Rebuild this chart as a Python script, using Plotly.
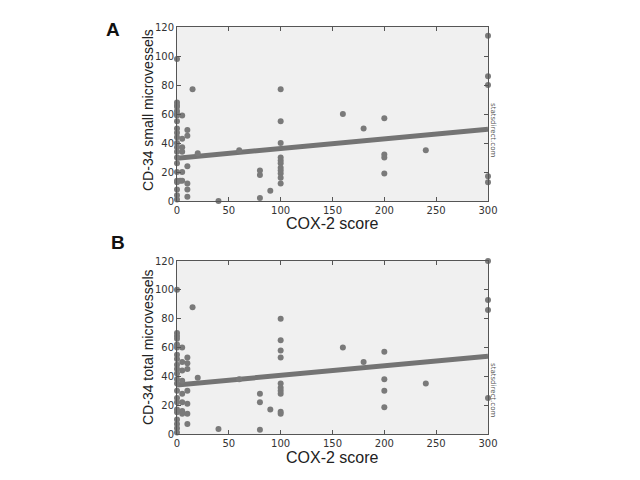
import plotly.graph_objects as go

# Panel A: CD-34 small microvessels vs COX-2 score
a_x = [0, 0, 0, 0, 0, 0, 0, 0, 0, 0, 0, 0, 0, 0, 0, 0, 0, 0, 0, 0, 0, 0,
       3, 5, 5, 5, 5, 5, 5, 10, 10, 10, 10, 10, 10, 15, 20, 40, 60,
       80, 80, 80, 90, 100, 100, 100, 100, 100, 100, 100, 100, 100, 100, 100,
       160, 180, 200, 200, 200, 200, 240, 300, 300, 300, 300, 300]
a_y = [98, 68, 66, 65, 62, 60, 59, 55, 50, 47, 44, 40, 37, 34, 30, 26, 20, 14, 13, 8, 4, 1,
       14, 59, 43, 37, 34, 20, 14, 49, 45, 24, 12, 8, 3, 77, 33, 0, 35,
       21, 18, 2, 7, 77, 55, 40, 30, 28, 26, 23, 21, 19, 16, 12,
       60, 50, 57, 32, 30, 19, 35, 114, 86, 80, 17, 13]
a_fit_x = [0, 300]
a_fit_y = [29.5, 49.5]

# Panel B: CD-34 total microvessels vs COX-2 score
b_x = [0, 0, 0, 0, 0, 0, 0, 0, 0, 0, 0, 0, 0, 0, 0, 0, 0, 0, 0, 0, 0, 0,
       5, 5, 5, 5, 5, 5, 5, 5, 10, 10, 10, 10, 10, 10, 10, 15, 20, 40, 60,
       80, 80, 80, 90, 100, 100, 100, 100, 100, 100, 100, 100, 100, 100,
       160, 180, 200, 200, 200, 200, 240, 300, 300, 300, 300]
b_y = [100, 70, 68, 66, 62, 60, 55, 52, 48, 45, 42, 38, 35, 30, 25, 22, 17, 15, 10, 7, 4, 1,
       60, 50, 44, 37, 28, 22, 16, 14, 53, 49, 45, 30, 21, 14, 7, 88, 39, 3.5, 38,
       28, 22, 3, 17, 80, 65, 58, 53, 35, 32, 30, 28, 15.5, 14,
       60, 50, 57, 38, 30, 18.5, 35, 120, 93, 86, 25]
b_fit_x = [0, 300]
b_fit_y = [34, 54]

x_ticks = [0, 50, 100, 150, 200, 250, 300]
y_ticks = [0, 20, 40, 60, 80, 100, 120]

x_title = "COX-2 score"
a_ytitle = "CD-34 small microvessels"
b_ytitle = "CD-34 total microvessels"
watermark = "statsdirect.com"

W, H = 640, 480
OFF = 8  # page body margin offset in the screenshot


def px(x):
    return (x - OFF) / W


def py(y):
    return 1 - (y - OFF) / H


pt_color = "#7a7a7a"
line_color = "#747474"

fig = go.Figure()

panels = [
    ("x", "y", a_x, a_y, a_fit_x, a_fit_y),
    ("x2", "y2", b_x, b_y, b_fit_x, b_fit_y),
]
for xa, ya, xs, ys, fx, fy in panels:
    fig.add_trace(go.Scatter(x=fx, y=fy, mode="lines", xaxis=xa, yaxis=ya,
                             line=dict(color=line_color, width=5), showlegend=False,
                             hoverinfo="skip"))
    fig.add_trace(go.Scatter(x=xs, y=ys, mode="markers", xaxis=xa, yaxis=ya,
                             marker=dict(color=pt_color, size=6), showlegend=False,
                             cliponaxis=False))

x_dom = [px(177), px(488)]
a_dom = [py(201), py(27)]
b_dom = [py(434), py(261)]

axis_common = dict(
    showgrid=False, zeroline=False, showline=True, mirror="ticks", automargin=False,
    linecolor="#555555", linewidth=1, ticks="inside", ticklen=4,
    tickcolor="#555555", tickfont=dict(family="DejaVu Sans", size=10, color="#333333"),
)

fig.update_layout(
    width=W, height=H, margin=dict(l=0, r=0, t=0, b=0, autoexpand=False),
    paper_bgcolor="white", plot_bgcolor="#f0f0f0", showlegend=False,
    xaxis=dict(domain=x_dom, range=[0, 300], tickvals=x_ticks, anchor="y", **axis_common),
    yaxis=dict(domain=a_dom, range=[0, 120], tickvals=y_ticks, anchor="x", **axis_common),
    xaxis2=dict(domain=x_dom, range=[0, 300], tickvals=x_ticks, anchor="y2", **axis_common),
    yaxis2=dict(domain=b_dom, range=[0, 120], tickvals=y_ticks, anchor="x2", **axis_common),
)

xt_font = dict(family="Liberation Sans", size=16, color="#222222")
yt_font = dict(family="Liberation Sans", size=14, color="#222222")
ann = [
    dict(text="<b>A</b>", x=px(113), y=py(30), font=dict(family="Liberation Sans", size=19, color="#111111")),
    dict(text="<b>B</b>", x=px(118), y=py(243), font=dict(family="Liberation Sans", size=19, color="#111111")),
    dict(text=x_title, x=px(332), y=py(224), font=xt_font),
    dict(text=x_title, x=px(332), y=py(457), font=xt_font),
    dict(text=a_ytitle, x=px(148), y=py(110), textangle=-90, font=yt_font),
    dict(text=b_ytitle, x=px(148), y=py(347), textangle=-90, font=yt_font),
    dict(text=watermark, x=px(493), y=py(130), textangle=90,
         font=dict(family="DejaVu Sans", size=7, color="#555555")),
    dict(text=watermark, x=px(493), y=py(390), textangle=90,
         font=dict(family="DejaVu Sans", size=7, color="#555555")),
]
for a in ann:
    fig.add_annotation(xref="paper", yref="paper", showarrow=False,
                       xanchor="center", yanchor="middle", **a)

fig.write_html("out.html")
